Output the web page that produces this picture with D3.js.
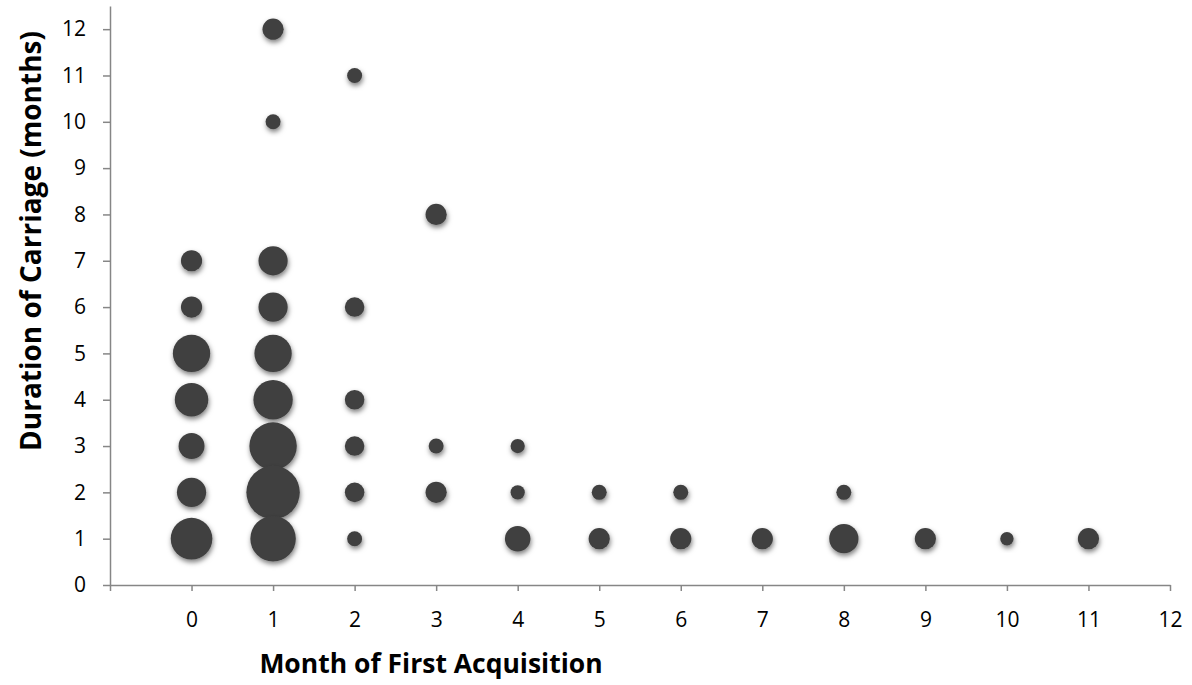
<!DOCTYPE html>
<html>
<head>
<meta charset="utf-8">
<script src="https://cdn.jsdelivr.net/npm/d3@7"></script>
<style>
  html, body { margin: 0; padding: 0; background: #ffffff; }
  svg { display: block; }
  .axis path, .axis line { stroke: #868686; stroke-width: 1.5; }
  .axis text { font-family: "Open Sans", sans-serif; font-size: 21px; fill: #000; }
  .title { font-family: "Open Sans", sans-serif; font-weight: bold; fill: #000; }
</style>
</head>
<body>
<svg id="chart" width="1192" height="685"></svg>
<script>
// Month of first acquisition (x), duration of carriage in months (y), bubble size
const firstMonth = [0, 0, 0, 0, 0, 0, 0,
                    1, 1, 1, 1, 1, 1, 1, 1, 1,
                    2, 2, 2, 2, 2, 2,
                    3, 3, 3,
                    4, 4, 4,
                    5, 5,
                    6, 6,
                    7,
                    8, 8,
                    9,
                    10,
                    11];
const carriageMonths = [7, 6, 5, 4, 3, 2, 1,
                        12, 10, 7, 6, 5, 4, 3, 2, 1,
                        11, 6, 4, 3, 2, 1,
                        8, 3, 2,
                        3, 2, 1,
                        2, 1,
                        2, 1,
                        1,
                        2, 1,
                        1,
                        1,
                        1];
const bubbleSize = [2, 2, 6.2, 5, 3, 3.8, 7.7,
                    2, 1, 3.8, 3.8, 6.2, 6.9, 10, 12.7, 9.2,
                    1, 1.7, 1.7, 1.7, 1.7, 1,
                    2, 1, 2,
                    0.9, 0.9, 2.9,
                    1, 2,
                    1, 2,
                    2,
                    1, 3.8,
                    2,
                    0.8,
                    2];

const xTicks = d3.range(-1, 13);
const yTicks = d3.range(0, 13);

const xTitle = "Month of First Acquisition";
const yTitle = "Duration of Carriage (months)";

const svg = d3.select("#chart");

const x = d3.scaleLinear().domain([-1, 12]).range([110, 1170]);
const y = d3.scaleLinear().domain([0, 12.5]).range([585, 6]);
const r = d3.scaleSqrt().domain([0, d3.max(bubbleSize)]).range([0, 7.5 * Math.sqrt(d3.max(bubbleSize))]);

// soft drop shadow under each bubble
const defs = svg.append("defs");
const shadow = defs.append("filter")
  .attr("id", "bubbleShadow")
  .attr("x", "-50%").attr("y", "-50%")
  .attr("width", "200%").attr("height", "200%");
shadow.append("feDropShadow")
  .attr("dx", 0.8).attr("dy", 2.8)
  .attr("stdDeviation", 2.4)
  .attr("flood-color", "#000")
  .attr("flood-opacity", 0.5);

// axes
const xAxis = d3.axisBottom(x)
  .tickValues(xTicks)
  .tickSize(6)
  .tickSizeOuter(0)
  .tickPadding(21)
  .tickFormat(d => d < 0 ? "" : d);

const yAxis = d3.axisLeft(y)
  .tickValues(yTicks)
  .tickSize(7)
  .tickSizeOuter(0)
  .tickPadding(17)
  .tickFormat(d => d);

svg.append("g")
  .attr("class", "axis x-axis")
  .attr("transform", `translate(0,${y(0)})`)
  .call(xAxis);

svg.append("g")
  .attr("class", "axis y-axis")
  .attr("transform", `translate(${x(-1)},0)`)
  .call(yAxis);

// bubbles
const points = firstMonth.map((m, i) => ({ m, d: carriageMonths[i], s: bubbleSize[i] }));

svg.append("g")
  .selectAll("circle")
  .data(points)
  .join("circle")
  .attr("cx", p => x(p.m))
  .attr("cy", p => y(p.d))
  .attr("r", p => r(p.s))
  .attr("fill", "#404040")
  .attr("filter", "url(#bubbleShadow)");

// axis titles
svg.append("text")
  .attr("class", "title")
  .attr("x", 431)
  .attr("y", 673)
  .attr("text-anchor", "middle")
  .style("font-size", "26.5px")
  .text(xTitle);

svg.append("text")
  .attr("class", "title")
  .attr("transform", "translate(41,241) rotate(-90)")
  .attr("text-anchor", "middle")
  .style("font-size", "28px")
  .text(yTitle);
</script>
</body>
</html>
